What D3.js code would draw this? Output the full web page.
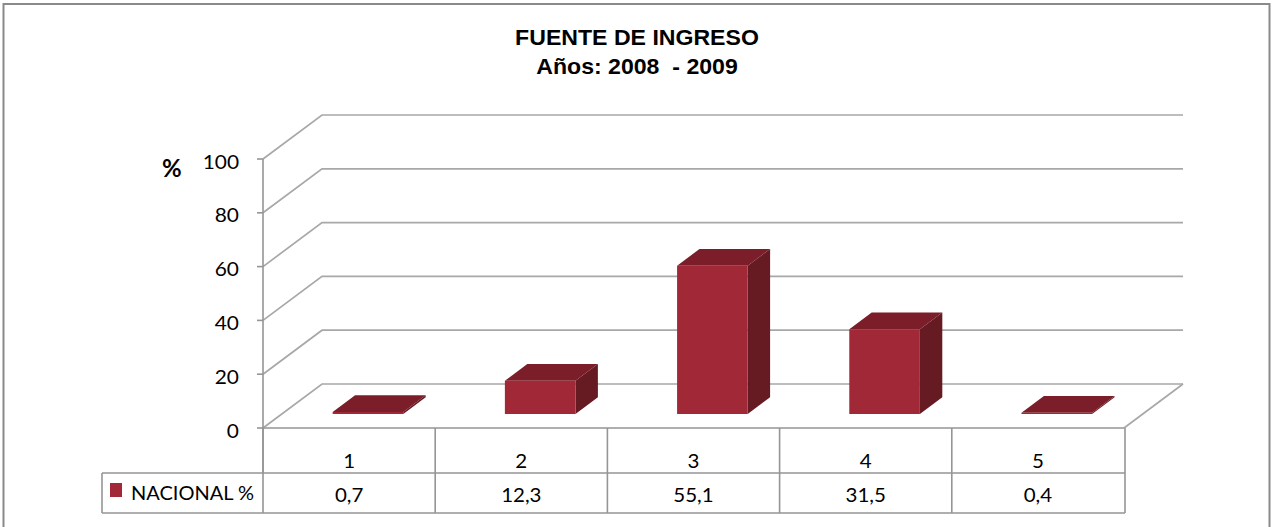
<!DOCTYPE html>
<html>
<head>
<meta charset="utf-8">
<script src="https://cdn.jsdelivr.net/npm/d3@7"></script>
<style>
  html, body { margin: 0; padding: 0; background: #fff; }
  svg { display: block; }
  text { white-space: pre; }
</style>
</head>
<body>
<svg id="chart" width="1272" height="527"></svg>
<script>
// data
var categories = ['1', '2', '3', '4', '5'];
var values = [0.7, 12.3, 55.1, 31.5, 0.4];
var valueLabels = ['0,7', '12,3', '55,1', '31,5', '0,4'];
var yTicks = [0, 20, 40, 60, 80, 100];
var seriesName = 'NACIONAL %';
var titleLines = ['FUENTE DE INGRESO', 'Años: 2008  - 2009'];

var svg = d3.select('#chart');

var left = 263, right = 1124;
var depth = { dx: 59, dy: -44 };      // full depth of the 3d box
var barDepth = [0.32, 0.70];          // bars sit between these fractions of depth
var barFrac = 0.41;

var gridColor = '#a8a8a8';
var tableColor = '#959595';
var frontColor = '#a12837', topColor = '#7b1e29', sideColor = '#661a22';

var y = d3.scaleLinear().domain([0, 100]).range([428, 159]);
var x = d3.scaleBand().domain(categories).range([left, right]).paddingInner(0).paddingOuter(0);

function proj(px, py, t) {
  return [px + depth.dx * t, py + depth.dy * t];
}

function txt(g, px, py, s, size, opts) {
  opts = opts || {};
  return g.append('text')
    .attr('transform', 'translate(' + px + ',' + py + ') scale(' + (opts.sx || 1) + ',1)')
    .attr('text-anchor', opts.anchor || 'middle')
    .attr('font-family', opts.family || 'Lato, "Open Sans", sans-serif')
    .attr('font-weight', opts.weight || 'normal')
    .attr('font-size', size)
    .attr('fill', '#000')
    .text(s);
}

// outer border
svg.append('rect')
  .attr('x', 3.5).attr('y', 4).attr('width', 1266).attr('height', 560)
  .attr('fill', 'none').attr('stroke', '#8a8a8a').attr('stroke-width', 2);

// title
txt(svg, 637, 45, titleLines[0], 22, { family: '"Liberation Sans", Arial, sans-serif', weight: 'bold', sx: 1.05 });
txt(svg, 637, 74, titleLines[1], 22, { family: '"Liberation Sans", Arial, sans-serif', weight: 'bold', sx: 1.05 });

// walls and floor
var walls = svg.append('g').attr('stroke', gridColor).attr('stroke-width', 1.7).attr('fill', 'none');

yTicks.forEach(function(v) {
  var a = [left, y(v)], b = proj(left, y(v), 1), c = proj(right, y(v), 1);
  walls.append('path').attr('d', 'M' + a + 'L' + b + 'L' + c);
});
// floor right edge
walls.append('path').attr('d', 'M' + [right, y(0)] + 'L' + proj(right, y(0), 1));

// y axis
var axis = svg.append('g').attr('stroke', tableColor).attr('stroke-width', 1.6);
axis.append('line').attr('x1', left).attr('x2', left).attr('y1', y(100)).attr('y2', 473);
yTicks.forEach(function(v) {
  axis.append('line').attr('x1', left - 6).attr('x2', left).attr('y1', y(v)).attr('y2', y(v));
});
yTicks.forEach(function(v) {
  txt(svg, 239, y(v) + 9.5, String(v), 19, { anchor: 'end', sx: 1.1 });
});
txt(svg, 162, 177, '%', 24, { anchor: 'start', weight: 'bold', sx: 1.0 });

// bars
var bars = svg.append('g').selectAll('g.bar')
  .data(categories.map(function(c, i) { return { cat: c, v: values[i] }; }))
  .enter().append('g').attr('class', 'bar');

bars.each(function(d) {
  var g = d3.select(this);
  var bw = x.bandwidth() * barFrac;
  var cx = x(d.cat) + x.bandwidth() / 2;
  var t0 = barDepth[0], t1 = barDepth[1];
  var fl = proj(cx - bw / 2, y(0), t0), fr = proj(cx + bw / 2, y(0), t0);
  var tl = proj(cx - bw / 2, y(d.v), t0), tr = proj(cx + bw / 2, y(d.v), t0);
  var btl = proj(cx - bw / 2, y(d.v), t1), btr = proj(cx + bw / 2, y(d.v), t1);
  var bbr = proj(cx + bw / 2, y(0), t1);
  g.append('path').attr('d', 'M' + fr + 'L' + bbr + 'L' + btr + 'L' + tr + 'Z').attr('fill', sideColor);
  g.append('path').attr('d', 'M' + tl + 'L' + btl + 'L' + btr + 'L' + tr + 'Z').attr('fill', topColor);
  g.append('path').attr('d', 'M' + fl + 'L' + fr + 'L' + tr + 'L' + tl + 'Z').attr('fill', frontColor);
});

// data table
var table = svg.append('g').attr('stroke', tableColor).attr('stroke-width', 1.6).attr('fill', 'none');
var rowTop = y(0), rowMid = 473, rowBot = 513, tableLeft = 102;
table.append('line').attr('x1', left).attr('x2', right).attr('y1', rowTop).attr('y2', rowTop);
table.append('line').attr('x1', tableLeft).attr('x2', right + 1).attr('y1', rowMid).attr('y2', rowMid);
table.append('line').attr('x1', tableLeft).attr('x2', right + 1).attr('y1', rowBot).attr('y2', rowBot);
table.append('line').attr('x1', tableLeft).attr('x2', tableLeft).attr('y1', rowMid).attr('y2', rowBot);
categories.forEach(function(c) {
  table.append('line').attr('x1', x(c)).attr('x2', x(c)).attr('y1', rowTop).attr('y2', rowBot);
});
table.append('line').attr('x1', right + 1).attr('x2', right + 1).attr('y1', rowTop).attr('y2', rowBot);

categories.forEach(function(c, i) {
  var cx = x(c) + x.bandwidth() / 2;
  txt(svg, cx, 468, c, 19, { sx: 1.08 });
  txt(svg, cx, 502, valueLabels[i], 19, { sx: 1.08 });
});

// legend key in table
svg.append('rect').attr('x', 110).attr('y', 483).attr('width', 12).attr('height', 14).attr('fill', frontColor);
txt(svg, 131, 500, seriesName, 20, { anchor: 'start', sx: 1.0 });
</script>
</body>
</html>
